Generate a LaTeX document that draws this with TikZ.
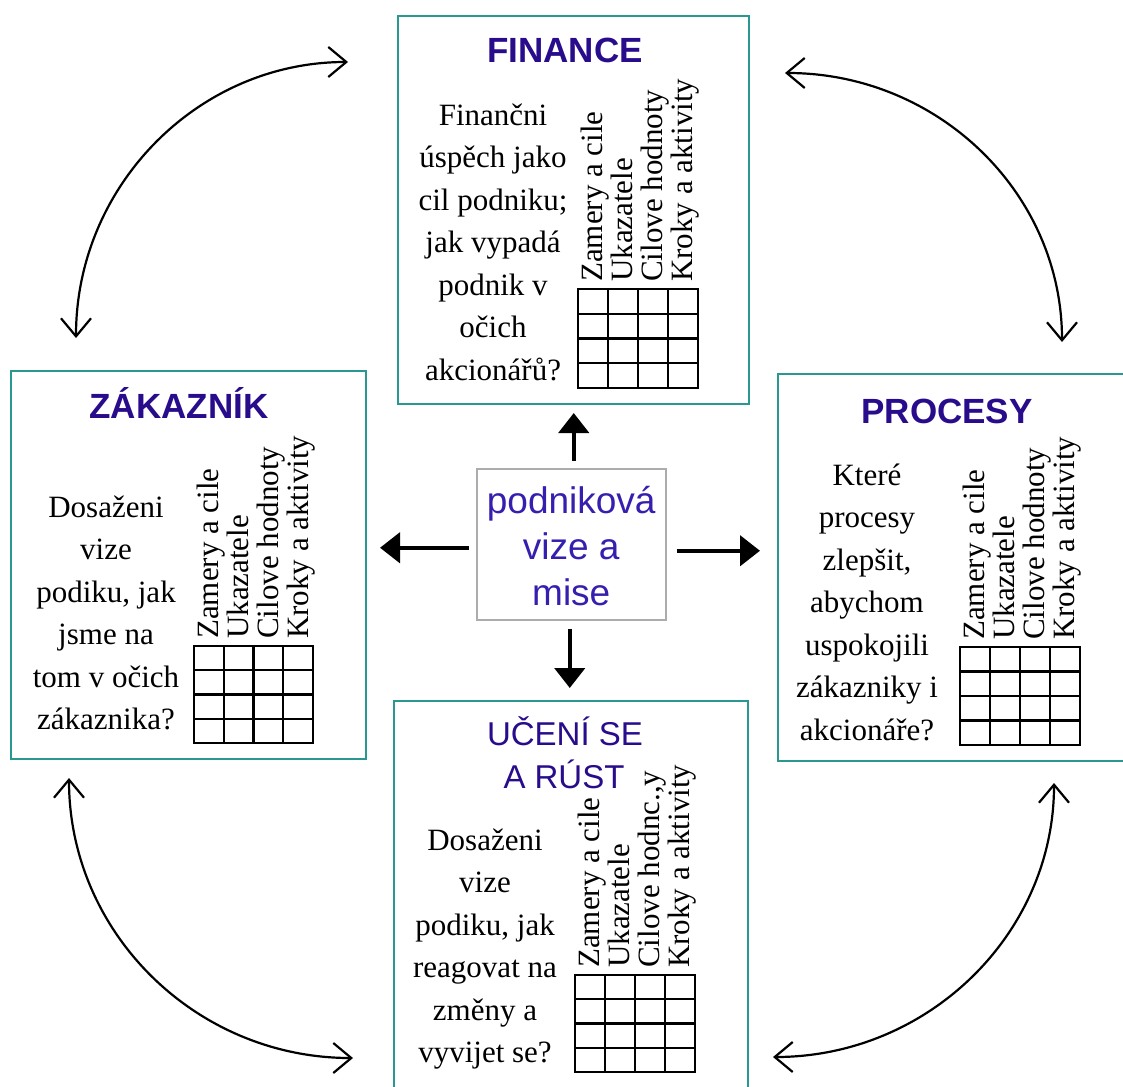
\documentclass[tikz,border=0pt]{standalone}
\usepackage{fontspec}
\setmainfont{Liberation Serif}
\setsansfont{Liberation Sans}
\usetikzlibrary{arrows.meta}
\definecolor{tealline}{RGB}{42,152,146}
\definecolor{headblue}{RGB}{40,12,140}
\definecolor{midblue}{RGB}{55,30,175}
\newcommand\fl{\rule{0pt}{25pt}}
\newcommand\mygrid[4]{%
  \draw[gridline] (#1,#2) rectangle (#3,#4);
  \foreach \i in {1,2,3} {
    \draw[gridline] ({#1+\i*(#3-#1)/4},#2) -- ({#1+\i*(#3-#1)/4},#4);
    \draw[gridline] (#1,{#2+\i*(#4-#2)/4}) -- (#3,{#2+\i*(#4-#2)/4});
  }%
}
\newcommand\mylabels[4]{%
  \node[lab] (#4-l1) at ({#1+24.5},{#2-7}) {Zamery a cile};
  \node[lab] (#4-l2) at ({#1+54.5},{#2-7}) {Ukazatele};
  \node[lab] (#4-l3) at ({#1+84.5},{#2-7}) {#3};
  \node[lab] (#4-l4) at ({#1+114.5},{#2-7}) {Kroky a aktivity};
}
\begin{document}
\begin{tikzpicture}[x=1pt,y=-1pt,
  panel/.style={draw=tealline, line width=2pt, inner sep=0pt, anchor=north west},
  head/.style={font=\sffamily\bfseries\fontsize{35}{42}\selectfont, text=headblue, inner sep=0pt, anchor=base},
  headreg/.style={font=\sffamily\fontsize{33}{42}\selectfont, text=headblue, inner sep=0pt, anchor=base},
  body/.style={font=\fontsize{31}{42.5}\selectfont, align=center, inner sep=0pt, anchor=north},
  lab/.style={font=\fontsize{31}{31}\selectfont, rotate=90, anchor=base west, inner sep=0pt},
  gridline/.style={line width=2.2pt},
  bigarrow/.style={line width=4.5pt, -{Triangle[length=20pt,width=30pt]}},
  arcarrow/.style={line width=2.2pt, {Straight Barb[length=18pt,width=30pt]}-{Straight Barb[length=18pt,width=30pt]}}
]
\useasboundingbox (0,0) rectangle (1123,1086);
\fill[white] (0,0) rectangle (1123,1086);

% panels
\node[panel, minimum width=351pt, minimum height=388pt] (fin) at (397,15) {};
\node[panel, minimum width=355pt, minimum height=388pt] (zak) at (10,370) {};
\node[panel, minimum width=353pt, minimum height=387pt] (proc) at (777,373) {};
\node[panel, minimum width=354pt, minimum height=395pt] (uc) at (393,700) {};

% centre box
\node[draw=gray!65, line width=1.5pt, inner sep=0pt, anchor=north west,
      minimum width=189pt, minimum height=151pt, align=center,
      font=\sffamily\fontsize{37}{46}\selectfont, text=midblue] (mid) at (476,468)
  {\rule{0pt}{30pt}podniková\\vize a\\mise};

% headings
\node[head] (finh) at (565,63) {FINANCE};
\node[head] (zakh) at (179,418) {ZÁKAZNÍK};
\node[head] (proch) at (947,423) {PROCESY};
\node[headreg] (uch1) at (565,745) {UČENÍ SE};
\node[headreg] (uch2) at (564,788) {A RÚST};

% body texts
\node[body] (fint) at (493,100) {\fl Finančni\\úspěch jako\\cil podniku;\\jak vypadá\\podnik v\\očich\\akcionářů?};
\node[body] (zakt) at (106,492) {\fl Dosaženi\\vize\\podiku, jak\\jsme na\\tom v očich\\zákaznika?};
\node[body] (proct) at (867,460) {\fl Které\\procesy\\zlepšit,\\abychom\\uspokojili\\zákazniky i\\akcionáře?};
\node[body] (uct) at (485,825) {\fl Dosaženi\\vize\\podiku, jak\\reagovat na\\změny a\\vyvijet se?};

% tables
\mygrid{578}{289}{698}{388}
\mylabels{578}{289}{Cilove hodnoty}{fin}
\mygrid{194}{646}{313}{743}
\mylabels{194}{646}{Cilove hodnoty}{zak}
\mygrid{960}{647}{1080}{745}
\mylabels{960}{647}{Cilove hodnoty}{proc}
\mygrid{575}{975}{695}{1072}
\mylabels{575}{975}{Cilove hodnc.,y}{uc}

% arrows from the centre
\draw[bigarrow, shorten <=7pt, shorten >=8pt] ([xshift=2.5pt]mid.north) -- ([xshift=2.5pt]mid.north |- fin.south);
\draw[bigarrow, shorten <=7pt, shorten >=13pt] ([yshift=-3.5pt]mid.west) -- ([yshift=-3.5pt]mid.west -| zak.east);
\draw[bigarrow, shorten <=10pt, shorten >=17pt] ([yshift=-6.5pt]mid.east) -- ([yshift=-6.5pt]mid.east -| proc.west);
\draw[bigarrow, shorten <=8pt, shorten >=12pt] ([xshift=-1.5pt]mid.south) -- ([xshift=-1.5pt]mid.south |- uc.north);

% curved double arrows
\coordinate (tlA) at (348,62);
\coordinate (tlB) at (76,338);
\coordinate (trA) at (785,73);
\coordinate (trB) at (1062,342);
\coordinate (blA) at (69,778);
\coordinate (blB) at (353,1058);
\coordinate (brA) at (1054,783);
\coordinate (brB) at (773,1057);
\draw[arcarrow] (tlA) .. controls (198,62) and (76,186) .. (tlB);
\draw[arcarrow] (trA) .. controls (938,73) and (1062,193) .. (trB);
\draw[arcarrow] (blA) .. controls (69,933) and (196,1058) .. (blB);
\draw[arcarrow] (brA) .. controls (1054,934) and (928,1057) .. (brB);
\end{tikzpicture}
\end{document}
